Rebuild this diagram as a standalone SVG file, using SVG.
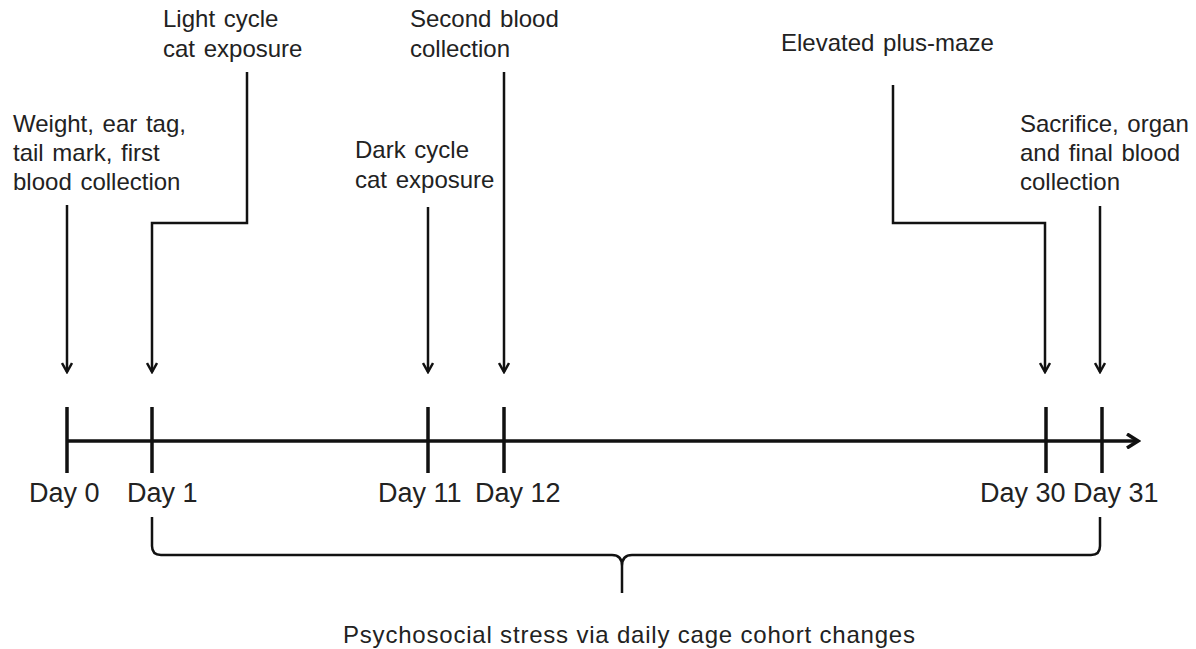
<svg xmlns="http://www.w3.org/2000/svg" width="1196" height="649" viewBox="0 0 1196 649">
<style>
.t{font-family:"Liberation Sans",Arial,sans-serif;font-size:24px;fill:#222;word-spacing:2px}
.d{font-family:"Liberation Sans",Arial,sans-serif;font-size:27px;fill:#222}
.b{font-family:"Liberation Sans",Arial,sans-serif;font-size:24px;fill:#222}
.c{fill:none;stroke:#111;stroke-width:2.5}
.ax{fill:none;stroke:#111;stroke-width:3.5}
</style>
<defs>
<marker id="ah" markerWidth="12" markerHeight="12" viewBox="0 0 12 12" refX="10" refY="6" orient="auto" markerUnits="userSpaceOnUse">
<path d="M1,1 L10,6 L1,11" fill="none" stroke="#111" stroke-width="2.5"/>
</marker>
<marker id="ah2" markerWidth="16" markerHeight="16" viewBox="0 0 16 16" refX="13" refY="8" orient="auto" markerUnits="userSpaceOnUse">
<path d="M2,1 L13,8 L2,15" fill="none" stroke="#111" stroke-width="3.5"/>
</marker>
</defs>
<rect width="1196" height="649" fill="#fff"/>
<g id="timeline">
<line class="ax" x1="67" y1="441" x2="1138" y2="441" marker-end="url(#ah2)"/>
<line class="ax" x1="67" y1="407" x2="67" y2="473"/>
<line class="ax" x1="152" y1="407" x2="152" y2="473"/>
<line class="ax" x1="428" y1="407" x2="428" y2="473"/>
<line class="ax" x1="504" y1="407" x2="504" y2="473"/>
<line class="ax" x1="1046" y1="407" x2="1046" y2="473"/>
<line class="ax" x1="1102" y1="407" x2="1102" y2="473"/>
<text class="d" x="29" y="502">Day 0</text>
<text class="d" x="127" y="502">Day 1</text>
<text class="d" x="378" y="502">Day 11</text>
<text class="d" x="475" y="502">Day 12</text>
<text class="d" x="980" y="502">Day 30</text>
<text class="d" x="1073" y="502">Day 31</text>
</g>
<g id="connectors">
<path class="c" d="M67,205 V372" marker-end="url(#ah)"/>
<path class="c" d="M247,72 V223 H152 V372" marker-end="url(#ah)"/>
<path class="c" d="M428,207 V372" marker-end="url(#ah)"/>
<path class="c" d="M504,72 V372" marker-end="url(#ah)"/>
<path class="c" d="M893,85 V223 H1045 V372" marker-end="url(#ah)"/>
<path class="c" d="M1100,206 V372" marker-end="url(#ah)"/>
</g>
<g id="n-day0"><text class="t" x="13" y="132">Weight, ear tag,</text><text class="t" x="13" y="161">tail mark, first</text><text class="t" x="13" y="190">blood collection</text></g>
<g id="n-light"><text class="t" x="163" y="27">Light cycle</text><text class="t" x="163" y="57">cat exposure</text></g>
<g id="n-dark"><text class="t" x="355" y="158">Dark cycle</text><text class="t" x="355" y="188">cat exposure</text></g>
<g id="n-second"><text class="t" x="410" y="27">Second blood</text><text class="t" x="410" y="57">collection</text></g>
<g id="n-epm"><text class="t" x="781" y="51">Elevated plus-maze</text></g>
<g id="n-sac"><text class="t" x="1020" y="132">Sacrifice, organ</text><text class="t" x="1020" y="161">and final blood</text><text class="t" x="1020" y="190">collection</text></g>
<g id="brace">
<path class="c" d="M152,517 V546 Q152,555 161,555 H612 Q622,555 622,566 V593 M622,566 Q622,555 632,555 H1091 Q1100,555 1100,546 V517"/>
<text class="b" x="343" y="643" textLength="572" lengthAdjust="spacing">Psychosocial stress via daily cage cohort changes</text>
</g>
</svg>
